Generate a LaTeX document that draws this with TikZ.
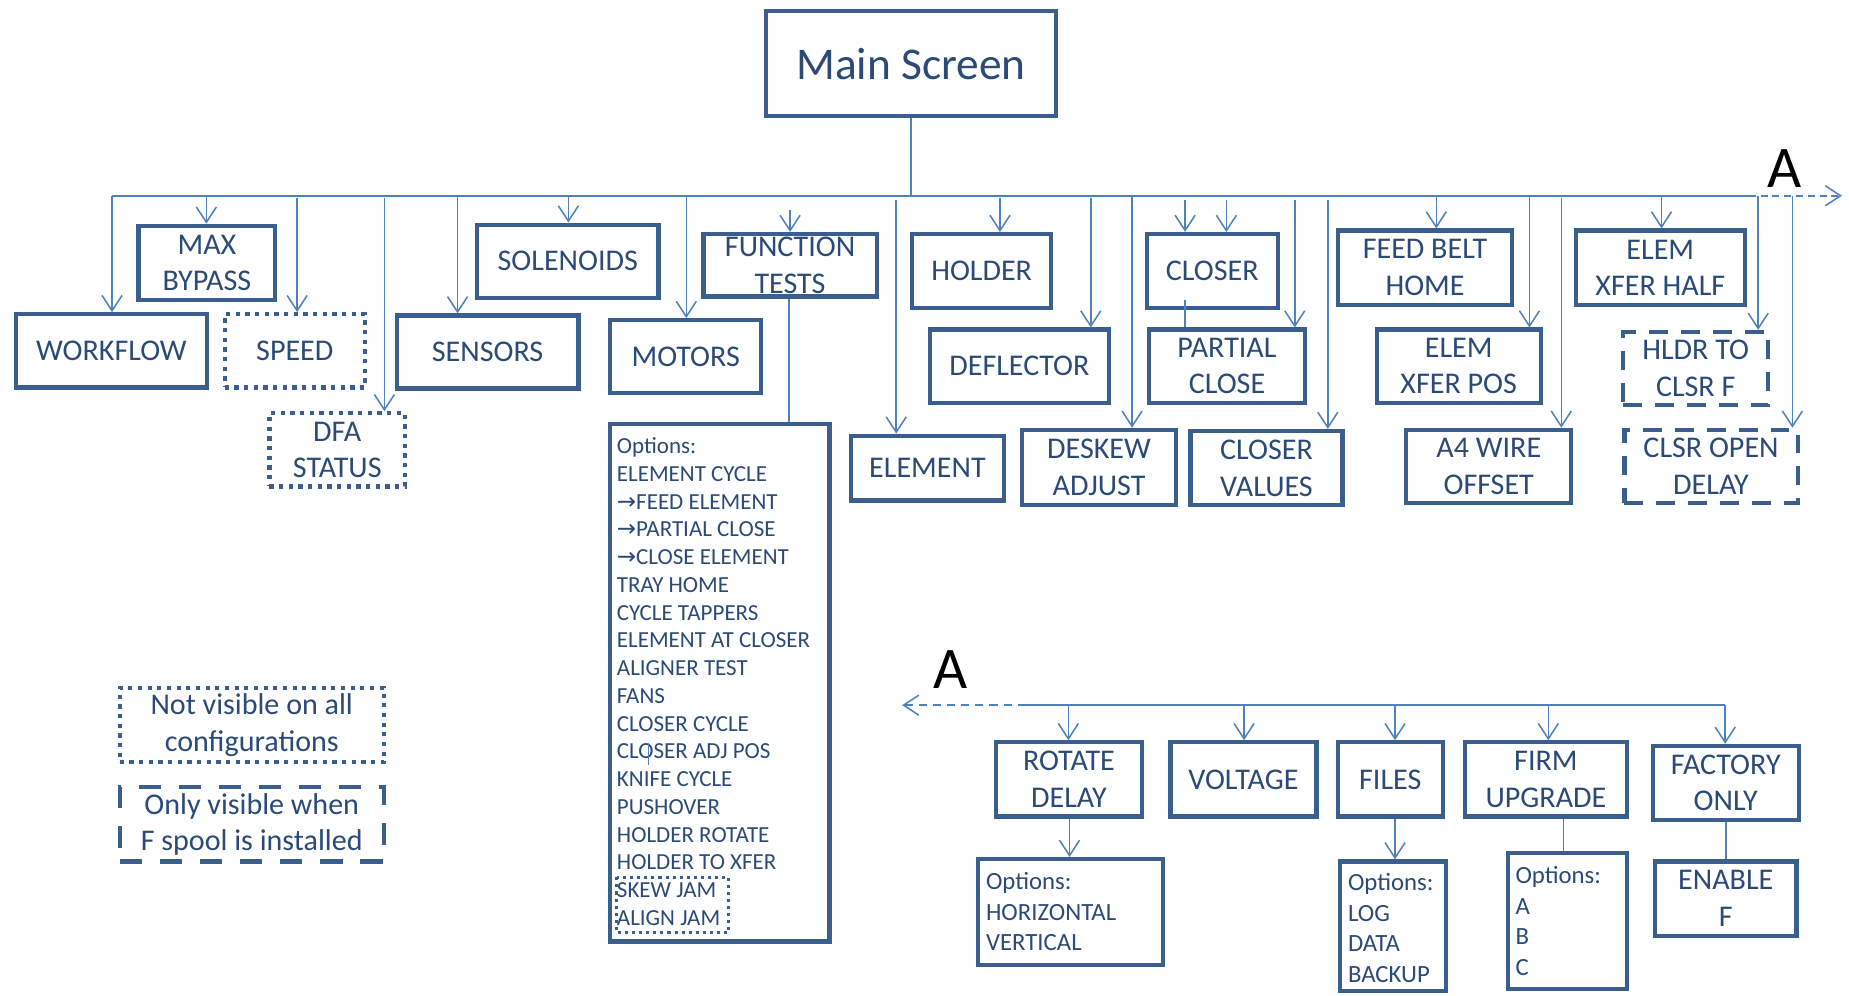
\documentclass[tikz,border=0pt]{standalone}
\usepackage{fontspec}
\setmainfont{Carlito}
\newfontfamily\symfont{DejaVu Sans}
\usetikzlibrary{arrows.meta}
\definecolor{bord}{HTML}{3A5F8E}
\definecolor{txt}{HTML}{2B4A78}
\definecolor{conn}{HTML}{4F81BD}
\tikzset{
  box/.style={draw=bord, line width=3.6pt, text=txt, inner sep=0pt, align=center,
              font=\fontsize{25.5}{31}\selectfont},
  dotbox/.style={box, dash pattern=on 3.6pt off 4.6pt},
  dashbox/.style={box, dash pattern=on 16pt off 11pt},
  cline/.style={draw=conn, line width=1.3pt},
  tip/.style={-{Straight Barb[length=13pt,width=17pt,line width=1.3pt]}},
  arr/.style={cline, tip},
  opt/.style={text=txt, inner sep=0pt, align=left, anchor=north west},
  optsmall/.style={opt, font=\fontsize{19.5}{23.53}\selectfont},
  optbig/.style={opt, font=\fontsize{21}{26}\selectfont},
  bigA/.style={font=\fontsize{50}{50}\selectfont, text=black, inner sep=0pt},
}
\newcommand{\rarr}{{\symfont →}}
\begin{document}
\begin{tikzpicture}[x=1pt,y=-1pt]
\useasboundingbox (0,0) rectangle (1568,844);

% main
\node[box, minimum width=246pt, minimum height=89pt, line width=3.8pt,
      font=\fontsize{38.5}{44}\selectfont] (main) at (772.5,54) {Main Screen};

% first level
\node[box, minimum width=116pt, minimum height=63pt] (maxbypass) at (175.5,223) {MAX\\BYPASS};
\node[box, minimum width=162pt, minimum height=62pt] (workflow) at (94.5,297.5) {WORKFLOW};
\node[dotbox, minimum width=119pt, minimum height=62pt] (speed) at (250,297.5) {SPEED};
\node[dotbox, minimum width=115pt, minimum height=62pt] (dfa) at (286,381.5) {DFA\\STATUS};
\node[box, minimum width=154pt, minimum height=62pt] (sensors) at (413.5,298.5) {SENSORS};
\node[box, minimum width=154pt, minimum height=62pt] (solenoids) at (481.5,221.5) {SOLENOIDS};
\node[box, minimum width=128pt, minimum height=62pt] (motors) at (581.5,302.5) {MOTORS};
\node[box, minimum width=147pt, minimum height=53pt] (ftests) at (670,225) {FUNCTION\\TESTS};
\node[box, minimum width=186pt, minimum height=439pt] (ftopts) at (610.5,579) {};
\node[box, minimum width=130pt, minimum height=55pt] (element) at (786.5,397) {ELEMENT};
\node[box, minimum width=118pt, minimum height=63pt] (holder) at (832.5,230) {HOLDER};
\node[box, minimum width=152pt, minimum height=62pt] (deflector) at (864.5,310.5) {DEFLECTOR};
\node[box, minimum width=131pt, minimum height=64pt] (deskew) at (932,396.5) {DESKEW\\ADJUST};
\node[box, minimum width=111pt, minimum height=63pt] (closer) at (1028,230) {CLOSER};
\node[box, minimum width=132pt, minimum height=62pt] (partial) at (1040.5,310.5) {PARTIAL\\CLOSE};
\node[box, minimum width=129pt, minimum height=63pt] (closerval) at (1074,397) {CLOSER\\VALUES};
\node[box, minimum width=148pt, minimum height=63pt] (feedbelt) at (1208.5,227) {FEED BELT\\HOME};
\node[box, minimum width=139pt, minimum height=62pt] (xferpos) at (1237,310.5) {ELEM\\XFER POS};
\node[box, minimum width=140pt, minimum height=62pt] (a4wire) at (1262.5,395.5) {A4 WIRE\\OFFSET};
\node[box, minimum width=143pt, minimum height=63pt] (xferhalf) at (1408,227) {ELEM\\XFER HALF};
\node[dashbox, minimum width=123pt, minimum height=62pt] (hldr) at (1438,312.5) {HLDR TO\\CLSR F};
\node[dashbox, minimum width=147pt, minimum height=62pt] (clsropen) at (1451,395.5) {CLSR OPEN\\DELAY};

% function test options
\node[optsmall] (ftoptstext) at (523,371) {Options:\\ELEMENT CYCLE\\\rarr FEED ELEMENT\\\rarr PARTIAL CLOSE\\\rarr CLOSE ELEMENT\\TRAY HOME\\CYCLE TAPPERS\\ELEMENT AT CLOSER\\ALIGNER TEST\\FANS\\CLOSER CYCLE\\CLOSER ADJ POS\\KNIFE CYCLE\\PUSHOVER\\HOLDER ROTATE\\HOLDER TO XFER\\SKEW JAM\\ALIGN JAM};
\draw[draw=bord, line width=2.6pt, dash pattern=on 2.6pt off 3.4pt] (523,744) rectangle (618,791);
\draw[cline, line width=1pt] (550,630) -- (550,649);

% legend
\node[dotbox, minimum width=224pt, minimum height=63pt] (leg1) at (213.5,615) {Not visible on all\\configurations};
\node[dashbox, minimum width=224pt, minimum height=63pt, dash pattern=on 19pt off 15pt] (leg2) at (213.5,699) {Only visible when\\F spool is installed};

% bus
\draw[cline] (main.south) -- (main.south |- 0,166);
\coordinate (busL) at (95,166);
\coordinate (busR) at (1483,166);
\coordinate (busEnd) at (1562,166);
\draw[cline] (busL) -- (busR);
\draw[cline, dash pattern=on 6pt off 4pt, tip] (busR) -- (busEnd);
\node[bigA] (labelA1) at (1513,143) {A};

\foreach \x/\s/\n in {95/166/workflow, 175/166/maxbypass, 252/168/speed, 326/168/dfa,
  388/166/sensors, 482/166/solenoids, 582/166/motors, 670/178/ftests, 760/170/element,
  848/168/holder, 925/168/deflector, 960/166/deskew, 1005/170/closer, 1040/170/closer,
  1098/170/partial, 1126/170/closerval, 1218/166/feedbelt, 1297/166/xferpos,
  1324/168/a4wire, 1409/166/xferhalf, 1491/166/hldr, 1520/166/clsropen}
  \draw[arr] (\x,\s) -- (\x,\s |- \n.north);

\draw[cline] (669,0 |- ftests.south) -- (669,0 |- ftopts.north);
\coordinate (cp) at (1005,254);
\draw[cline] (cp) -- (cp |- partial.north);

% second part
\node[bigA] (labelA2) at (806,568) {A};
\coordinate (bbR) at (1463,598);
\coordinate (bbM) at (870,598);
\coordinate (bbL) at (765,598);
\draw[cline] (bbR) -- (bbM);
\draw[cline, dash pattern=on 7pt off 5pt, tip] (bbM) -- (bbL);

\node[box, minimum width=124pt, minimum height=63pt] (rotate) at (906.5,661) {ROTATE\\DELAY};
\node[box, minimum width=124pt, minimum height=63pt] (voltage) at (1054.5,661) {VOLTAGE};
\node[box, minimum width=89pt, minimum height=63pt] (files) at (1179,661) {FILES};
\node[box, minimum width=137pt, minimum height=63pt] (firm) at (1311,661) {FIRM\\UPGRADE};
\node[box, minimum width=124pt, minimum height=63pt] (factory) at (1463.5,664) {FACTORY\\ONLY};
\node[box, minimum width=157pt, minimum height=90pt] (rotopts) at (908,773.5) {};
\node[box, minimum width=90pt, minimum height=110pt] (fileopts) at (1181.5,785.5) {};
\node[box, minimum width=101pt, minimum height=115pt] (firmopts) at (1329,781) {};
\node[box, minimum width=120pt, minimum height=63pt] (enablef) at (1463.5,762) {ENABLE\\F};

\node[optbig] (rotoptstext) at (836,739.5) {Options:\\HORIZONTAL\\VERTICAL};
\node[optbig] (fileoptstext) at (1143,740.5) {Options:\\LOG\\DATA\\BACKUP};
\node[optbig] (firmoptstext) at (1285,734.5) {Options:\\A\\B\\C};

\foreach \x/\n in {906/rotate, 1055/voltage, 1183/files, 1313/firm, 1463/factory}
  \draw[arr] (\x,598) -- (\x,598 |- \n.north);

\draw[arr] (907,0 |- rotate.south) -- (907,0 |- rotopts.north);
\draw[arr] (1183,0 |- files.south) -- (1183,0 |- fileopts.north);
\draw[cline] (1326,0 |- firm.south) -- (1326,0 |- firmopts.north);
\draw[cline] (factory.south) -- (enablef.north);
\end{tikzpicture}
\end{document}
